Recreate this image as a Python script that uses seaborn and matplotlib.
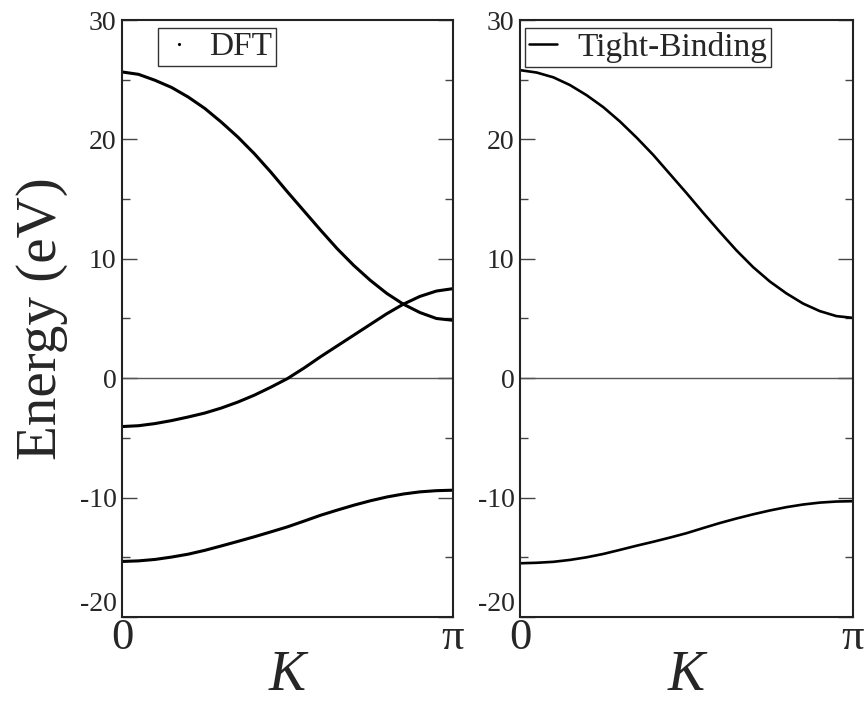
import numpy as np
import seaborn as sns
import matplotlib.pyplot as plt
from matplotlib.lines import Line2D

# sample points along K (0 .. pi), 21 samples
k = np.linspace(0, np.pi, 21)

# DFT bands (eV)
dft_band1 = [25.65, 25.45, 24.95, 24.35, 23.55, 22.6, 21.45, 20.2, 18.8, 17.25, 15.6,
             14.0, 12.4, 10.85, 9.45, 8.2, 7.1, 6.2, 5.5, 5.0, 4.85]
dft_band2 = [-4.05, -3.98, -3.8, -3.55, -3.25, -2.92, -2.5, -2.0, -1.42, -0.75, -0.03,
             0.85, 1.8, 2.7, 3.6, 4.5, 5.4, 6.2, 6.85, 7.3, 7.5]
dft_band3 = [-15.35, -15.3, -15.18, -14.98, -14.74, -14.42, -14.05, -13.67, -13.28, -12.87, -12.45,
             -11.97, -11.48, -11.05, -10.64, -10.27, -9.95, -9.7, -9.52, -9.42, -9.38]

# Tight-binding bands (eV)
tb_band1 = [25.8, 25.6, 25.2, 24.55, 23.7, 22.7, 21.5, 20.15, 18.7, 17.1, 15.5,
            13.85, 12.25, 10.7, 9.3, 8.1, 7.1, 6.25, 5.62, 5.2, 5.05]
tb_band2 = [-15.5, -15.46, -15.38, -15.22, -15.0, -14.72, -14.38, -14.03, -13.7, -13.35, -12.98,
            -12.55, -12.13, -11.75, -11.4, -11.08, -10.8, -10.58, -10.42, -10.33, -10.3]

yticks = [-20, -10, 0, 10, 20, 30]
xtick_labels = ['0', 'π']

sns.set_theme(style='white')
plt.rcParams['font.family'] = ['Liberation Serif', 'DejaVu Serif']
plt.rcParams['axes.unicode_minus'] = False

fig = plt.figure(figsize=(8.65, 7.02), dpi=100)
ax1 = fig.add_axes([0.141, 0.1211, 0.3827, 0.8504])
ax2 = fig.add_axes([0.6012, 0.1211, 0.385, 0.8504])

spine_col = '#222222'


def style_axes(ax):
    ax.set_xlim(0, np.pi)
    ax.set_ylim(-20, 30)
    ax.set_yticks(yticks)
    ax.set_yticks(np.arange(-15, 30, 10), minor=True)
    ax.set_xticks([0, np.pi])
    ax.set_xticklabels(xtick_labels)
    ax.tick_params(axis='y', which='major', direction='in', length=11, width=1.0,
                   left=True, right=True, labelsize=20, pad=4, color='#444444')
    ax.tick_params(axis='y', which='minor', direction='in', length=6, width=1.0,
                   left=True, right=True, color='#444444')
    ax.tick_params(axis='x', length=0, labelsize=32, pad=1)
    for s in ax.spines.values():
        s.set_color(spine_col)
        s.set_linewidth(1.5)
    ax.axhline(0, color='#555555', lw=1.0, zorder=1)
    ax.set_xlabel('K', fontsize=40, style='italic', labelpad=-6)
    ax.set_ylabel('')
    # the lowest label sits above the corner, as in the original
    ax.yaxis.get_major_ticks()[0].label1.set_verticalalignment('bottom')


for band in [dft_band1, dft_band2, dft_band3]:
    sns.lineplot(x=k, y=band, ax=ax1, color='black', lw=2.2, estimator=None, sort=False)
for band in [tb_band1, tb_band2]:
    sns.lineplot(x=k, y=band, ax=ax2, color='black', lw=1.9, estimator=None, sort=False)

style_axes(ax1)
style_axes(ax2)

dft_handle = Line2D([], [], ls='none', marker='.', ms=2.5, color='black')
leg1 = ax1.legend([dft_handle], ['DFT'], loc='upper left', bbox_to_anchor=(0.109, 0.987),
                  borderaxespad=0, fontsize=24, fancybox=False, handlelength=1.0,
                  handletextpad=0.4, borderpad=0.12, framealpha=1)
leg1.get_frame().set_edgecolor('#333333')
leg1.get_frame().set_linewidth(1.0)

tb_handle = Line2D([], [], ls='-', lw=1.8, color='black')
leg2 = ax2.legend([tb_handle], ['Tight-Binding'], loc='upper left', bbox_to_anchor=(0.015, 0.987),
                  borderaxespad=0, fontsize=24, fancybox=False, handlelength=0.85,
                  handletextpad=0.6, borderpad=0.12, framealpha=1)
leg2.get_frame().set_edgecolor('#333333')
leg2.get_frame().set_linewidth(1.0)

fig.text(0.0486, 0.546, 'Energy (eV)', rotation=90, fontsize=41, ha='center', va='center')

plt.savefig('out.png', dpi=100)
